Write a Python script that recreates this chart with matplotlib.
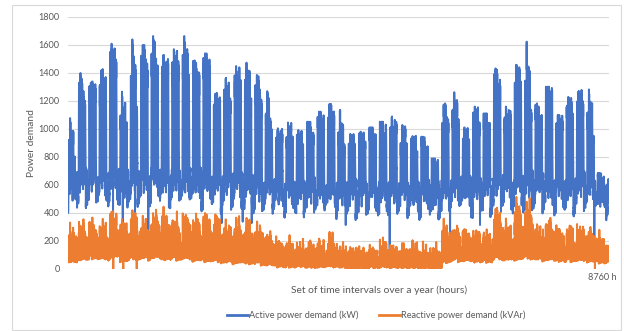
import matplotlib
matplotlib.use("Agg")
import matplotlib.pyplot as plt
from matplotlib.patches import Rectangle
from matplotlib.lines import Line2D

plt.rcParams["font.family"] = ["Lato", "DejaVu Sans"]

HOURS = 8760
DAYS = 365

# Weekly readings (53 weeks, the last one holds a single day)
# Active power: highest weekday peak, lowest weekday peak, weekday night base
act_hi = [1078, 1400, 1340, 1428, 1615, 1267, 1640, 1600, 1664, 1540, 1570, 1664, 1490,
          1540, 1267, 1374, 1457, 1474, 1386, 1279, 1005, 1052, 993, 1052, 1124, 1179,
          1140, 964, 981, 1012, 1052, 1100, 1029, 957, 945, 790, 1183, 1267, 1017, 1160,
          1112, 1433, 1160, 1469, 1624, 1183, 1302, 1100, 1243, 1279, 1290, 684, 640]
act_lo = [850, 1210, 1280, 1335, 1550, 1060, 1200, 1450, 1420, 1440, 1500, 1450, 1400,
          1445, 1200, 1250, 1380, 1260, 1207, 969, 940, 980, 940, 980, 1050, 1100,
          921, 900, 940, 950, 990, 1000, 910, 900, 874, 740, 1050, 1100, 950, 1080,
          1040, 1314, 1080, 1350, 1183, 1100, 1250, 1064, 1150, 1200, 993, 640, 600]
act_base = [580, 610, 620, 610, 630, 590, 610, 620, 630, 610, 620, 610, 600,
            610, 590, 600, 590, 580, 570, 570, 550, 540, 550, 540, 550, 550,
            540, 530, 530, 540, 540, 550, 540, 530, 530, 520, 560, 570, 560, 570,
            570, 590, 580, 590, 590, 580, 580, 570, 570, 580, 570, 510, 490]
# Active power on weekends: daytime level and trough
act_we_hi = [650, 670, 660, 670, 690, 660, 670, 680, 690, 670, 680, 690, 670,
             670, 650, 660, 650, 640, 630, 620, 600, 600, 590, 600, 600, 610,
             600, 590, 590, 600, 600, 610, 590, 590, 580, 570, 620, 630, 610, 620,
             620, 650, 620, 650, 660, 640, 640, 620, 620, 640, 610, 620, 580]
act_we_lo = [490, 510, 520, 510, 520, 500, 510, 520, 530, 510, 520, 510, 500,
             500, 480, 480, 470, 470, 460, 460, 450, 440, 450, 440, 450, 450,
             440, 430, 430, 440, 440, 450, 440, 430, 430, 420, 450, 460, 450, 460,
             460, 470, 460, 470, 470, 460, 460, 450, 450, 460, 450, 440, 430]

# Reactive power: weekday peak and night minimum
rea_hi = [260, 300, 310, 300, 400, 320, 370, 330, 380, 370, 340, 360, 350,
          370, 350, 300, 328, 300, 290, 220, 170, 160, 150, 150, 157, 200,
          130, 110, 100, 110, 170, 120, 130, 140, 120, 110, 280, 270, 250, 240,
          230, 400, 300, 440, 440, 280, 328, 250, 270, 280, 250, 200, 190]
rea_lo = [60, 80, 90, 80, 90, 70, 80, 80, 90, 80, 80, 80, 70,
          70, 60, 55, 55, 50, 45, 40, 30, 30, 30, 25, 30, 30,
          25, 20, 20, 25, 25, 25, 25, 20, 20, 20, 60, 70, 70, 65,
          65, 80, 75, 80, 85, 75, 75, 70, 70, 70, 65, 60, 60]

# Hourly load shape of a day (0 = night minimum, 1 = daily peak)
act_day_shape = [0.06, 0.02, 0.00, 0.01, 0.04, 0.12, 0.35, 0.62, 0.84, 0.95, 1.00, 0.93,
                 0.82, 0.90, 0.97, 0.91, 0.78, 0.60, 0.45, 0.36, 0.28, 0.20, 0.13, 0.08]
rea_day_shape = [0.10, 0.05, 0.00, 0.08, 0.02, 0.15, 0.40, 0.55, 0.80, 0.70, 0.95, 1.00,
                 0.75, 0.85, 0.90, 0.65, 0.80, 0.50, 0.40, 0.45, 0.30, 0.25, 0.15, 0.12]
# Position of each weekday peak between the week's lowest and highest peak (Mon..Fri)
weekday_mix = [0.35, 1.00, 0.70, 0.50, 0.00]
# Relative weekend daytime level (Sat, Sun)
weekend_mix = [1.00, 0.85]
# Relative reactive level for each day of the week (Mon..Sun)
rea_week_mix = [0.85, 1.00, 0.90, 0.95, 0.80, 0.55, 0.45]

# Recurring day-to-day and hour-to-hour fluctuations (kW / kVAr)
day_peak_dev = [0, 45, -35, 20, -55, 30, -15, 40, -25, 10, -45]
day_base_dev = [0, -30, 20, -50, 10, 35, -20, 5, -40, 25, -10, 30, -60]
act_hour_dev = [0, 25, -18, 38, -30, 12, -42, 20, 34, -14, 16, -34, 28, -22, 8, 40, -26]
rea_hour_dev = [0, 35, -25, 50, -40, 15, -55, 30, 45, -20, 20, -45, 40, -30, 10, 55, -35, 25, -15]
rea_day_dev = [0, 30, -25, 15, -35, 40, -10, 25, -20]

# Short outages: hour and recorded value
act_dip_hours = [729, 886, 1085, 1300, 2488, 2828, 2974, 4496, 5208, 6185, 6670, 8521]
act_dip_vals = [400, 160, 400, 280, 328, 338, 328, 314, 88, 148, 314, 160]
rea_dip_hours = [733, 895, 1112, 5208, 8530]
rea_dip_vals = [0, 0, 0, 10, 0]
# First hours of the year (holiday)
new_year_hours = [470, 430, 400, 410, 420, 440, 480, 520, 560, 600, 620, 640, 680, 760]

# Build hourly series
active = []
reactive = []
for d in range(DAYS):
    w, wd = divmod(d, 7)
    if wd < 5:
        top = act_lo[w] + (act_hi[w] - act_lo[w]) * weekday_mix[wd]
        if wd != 1:
            top += day_peak_dev[d % len(day_peak_dev)]
        top = min(top, act_hi[w])
        bot = act_base[w] + day_base_dev[d % len(day_base_dev)]
        cap = act_hi[w]
    else:
        top = act_we_lo[w] + (act_we_hi[w] - act_we_lo[w]) * weekend_mix[wd - 5]
        top += day_peak_dev[d % len(day_peak_dev)]
        bot = act_we_lo[w] + day_base_dev[d % len(day_base_dev)]
        cap = top + 30
    for i, p in enumerate(act_day_shape):
        h = d * 24 + i
        v = bot + (top - bot) * p + act_hour_dev[h % len(act_hour_dev)] * (1 - 0.6 * p)
        active.append(min(v, cap))
    rtop = rea_lo[w] + (rea_hi[w] - rea_lo[w]) * rea_week_mix[wd] + rea_day_dev[d % len(rea_day_dev)]
    for i, p in enumerate(rea_day_shape):
        h = d * 24 + i
        v = rea_lo[w] + (rtop - rea_lo[w]) * p + rea_hour_dev[h % len(rea_hour_dev)] * (0.4 + 0.6 * p)
        reactive.append(max(v, 5))

active[:len(new_year_hours)] = new_year_hours

for h, v in zip(act_dip_hours, act_dip_vals):
    for k in range(h - 1, h + 2):
        active[k] = v
for h, v in zip(rea_dip_hours, rea_dip_vals):
    for k in range(h - 1, h + 2):
        reactive[k] = v

hours = list(range(1, HOURS + 1))

W, H = 624, 331
fig = plt.figure(figsize=(W / 100, H / 100), dpi=100)
fig.patch.set_facecolor("white")

# Chart-area frame
fig.patches.append(Rectangle((12 / W, 1 / H), (621 - 12) / W, (330 - 5) / H,
                             transform=fig.transFigure, fill=False,
                             edgecolor="#d9d9d9", linewidth=0.8))

ax = fig.add_axes([68 / W, 1 - 269 / H, (609 - 68) / W, (269 - 17) / H])
blue = "#4472c4"
orange = "#ed7d31"
ax.plot(hours, active, color=blue, linewidth=1.4, zorder=3)
ax.plot(hours, reactive, color=orange, linewidth=1.4, zorder=3)

ax.set_xlim(1, HOURS)
ax.set_ylim(0, 1800)
ax.set_yticks(range(0, 1801, 200))
ax.set_xticks([])
ax.grid(axis="y", color="#d9d9d9", linewidth=0.8, zorder=0)
ax.set_axisbelow(True)
for s in ax.spines.values():
    s.set_visible(False)
ax.tick_params(axis="y", length=0, pad=6, labelsize=6.6, labelcolor="#595959")

tick_col = "#595959"
fig.text(617 / W, 1 - 277 / H, "8760 h", ha="right", va="center",
         fontsize=6.6, color=tick_col)
fig.text(32 / W, 1 - 143 / H, "Power demand", rotation=90, ha="center", va="center",
         fontsize=7.4, color=tick_col)
fig.text(379 / W, 1 - 290 / H, "Set of time intervals over a year (hours)",
         ha="center", va="center", fontsize=7.4, color=tick_col)

handles = [Line2D([], [], color=blue, linewidth=2.0),
           Line2D([], [], color=orange, linewidth=2.0)]
fig.legend(handles, ["Active power demand (kW)", "Reactive power demand (kVAr)"],
           loc="center", bbox_to_anchor=(376 / W, 1 - 315 / H), ncol=2,
           frameon=False, fontsize=6.6, handlelength=2.3, handletextpad=0.15,
           columnspacing=2.2, labelcolor=tick_col, borderpad=0, borderaxespad=0)

fig.savefig("out.png", dpi=100, facecolor="white")
